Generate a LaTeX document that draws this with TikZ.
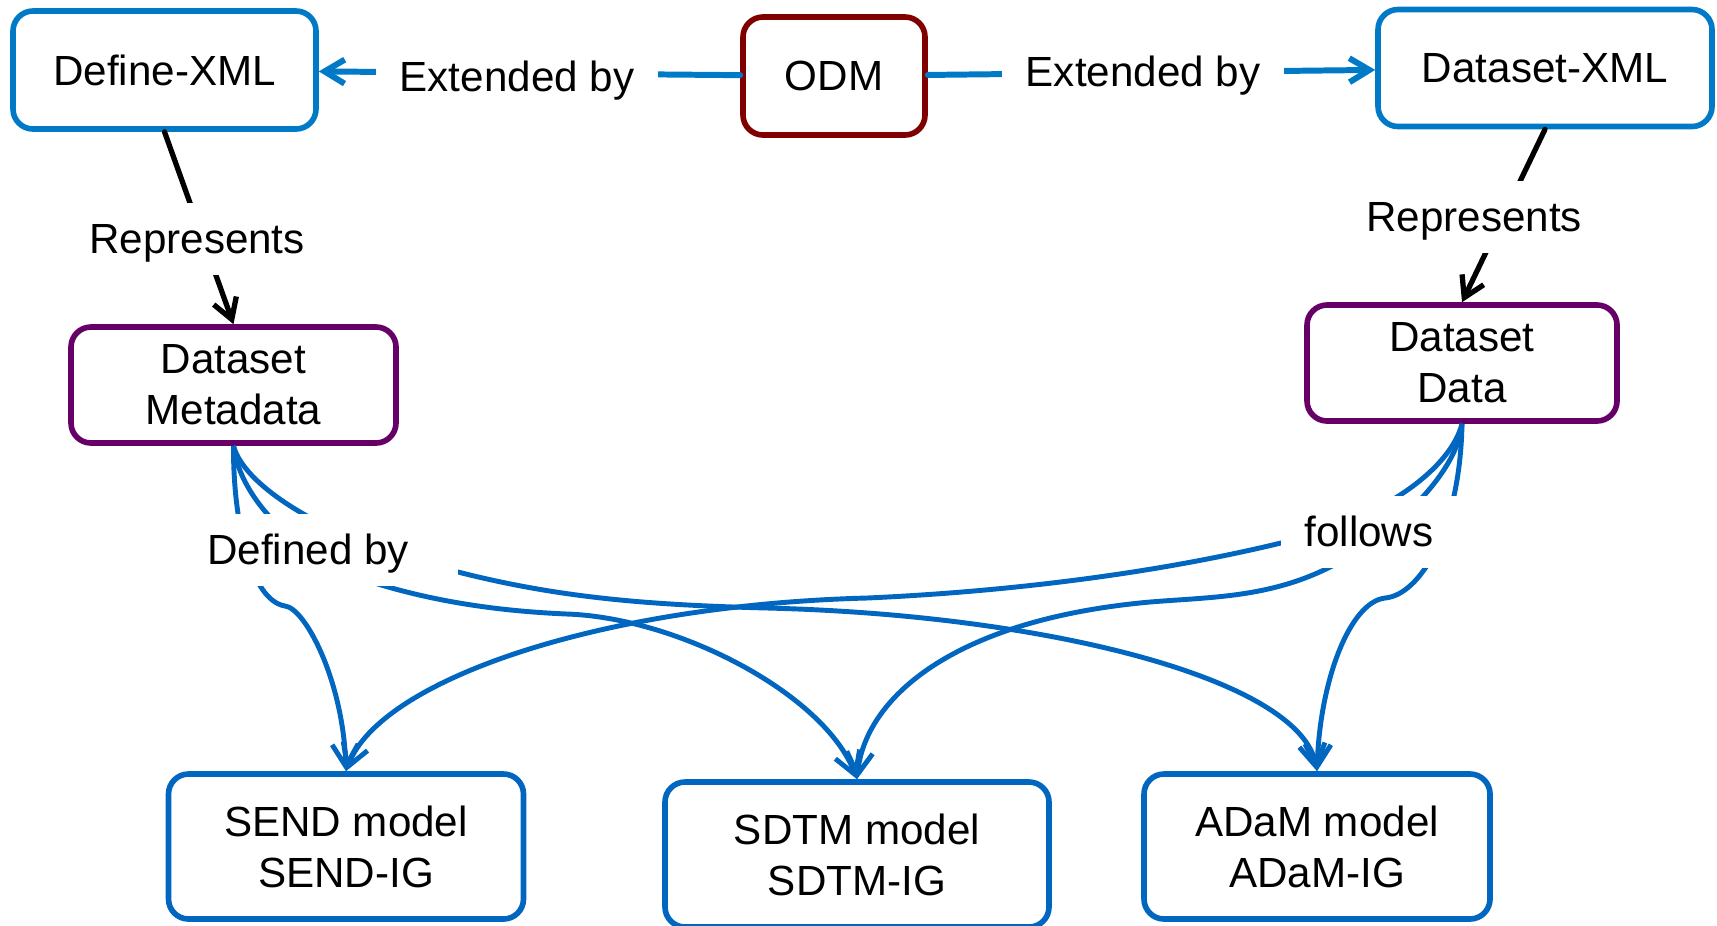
\documentclass[tikz,border=0pt]{standalone}
\usepackage{fontspec}
\setmainfont{Liberation Sans}
\usetikzlibrary{arrows.meta}

\definecolor{xmlblue}{RGB}{0,122,198}
\definecolor{modelblue}{RGB}{0,102,192}
\definecolor{odmred}{RGB}{128,0,0}
\definecolor{dspurple}{RGB}{102,0,102}

\begin{document}
\begin{tikzpicture}[x=0.1mm,y=-0.1mm,
    font=\fontsize{12}{14.5}\selectfont,
    box/.style={draw,rounded corners=2mm,line width=1.6pt,inner sep=0pt,align=center},
    lbl/.style={fill=white,inner xsep=2.4mm,inner ysep=1.6mm,text height=10pt,text depth=1.5pt},
    ext/.style={draw=xmlblue,line width=1.7pt,line cap=round,-{Straight Barb[length=2mm,width=2.4mm]}},
    rep/.style={line width=1.5pt,line cap=round,-{Straight Barb[length=2mm,width=2.4mm]}},
    flow/.style={draw=modelblue,line width=1.4pt,-{Straight Barb[length=2.2mm,width=2.6mm]}}]
    \useasboundingbox (0,0) rectangle (1717,925);

    % top row
    \node[box,draw=xmlblue,minimum width=30.3mm,minimum height=11.8mm] (defxml) at (164.5,70) {Define-XML};
    \node[box,draw=odmred,minimum width=18.2mm,minimum height=11.8mm] (odm) at (834,76) {ODM};
    \node[box,draw=xmlblue,minimum width=33.4mm,minimum height=11.7mm] (dsxml) at (1545,68) {Dataset-XML};

    % datasets
    \node[box,draw=dspurple,minimum width=32.5mm,minimum height=11.6mm] (meta) at (233.5,385) {Dataset\\Metadata};
    \node[box,draw=dspurple,minimum width=31mm,minimum height=11.6mm] (data) at (1462,363) {Dataset\\Data};

    % models
    \node[box,draw=modelblue,minimum width=35.5mm,minimum height=14.5mm] (send) at (346,846.5) {SEND model\\SEND-IG};
    \node[box,draw=modelblue,minimum width=38.4mm,minimum height=14.5mm] (sdtm) at (857,854.5) {SDTM model\\SDTM-IG};
    \node[box,draw=modelblue,minimum width=34.6mm,minimum height=14.5mm] (adam) at (1317,846.5) {ADaM model\\ADaM-IG};

    \draw[ext] (odm) -- (defxml);
    \draw[ext] (odm) -- (dsxml);
    \draw[rep] (defxml.south) -- (meta.north);
    \draw[rep] (dsxml.south) -- (data.north);

    % Dataset Metadata to the models
    \draw[flow] (meta.south) .. controls (233,520) and (250,600) .. (285,606)
        .. controls (305,608) and (343,680) .. (send.north);
    \draw[flow] (meta.south) .. controls (240,500) and (300,560) .. (378,584)
        .. controls (450,606) and (520,612) .. (567,614)
        .. controls (680,618) and (825,695) .. (sdtm.north);
    \draw[flow] (meta.south) .. controls (245,490) and (340,545) .. (458,572)
        .. controls (560,598) and (650,605) .. (767,608)
        .. controls (1050,615) and (1300,680) .. (adam.north);
    % Dataset Data to the models
    \draw[flow] (data.south) .. controls (1450,470) and (1380,520) .. (1285,542)
        .. controls (1150,575) and (1000,592) .. (867,598)
        .. controls (600,605) and (380,680) .. (send.north);
    \draw[flow] (data.south) .. controls (1458,470) and (1400,530) .. (1332,566)
        .. controls (1270,598) and (1210,597) .. (1150,602)
        .. controls (950,620) and (865,700) .. (sdtm.north);
    \draw[flow] (data.south) .. controls (1460,530) and (1420,595) .. (1385,598)
        .. controls (1350,602) and (1320,680) .. (adam.north);

    % labels over the connectors
    \node[lbl] (ext1) at (517,77) {Extended by};
    \node[lbl] (ext2) at (1143,72) {Extended by};
    \node[lbl] (rep1) at (197,239) {Represents};
    \node[lbl] (rep2) at (1474,217) {Represents};
    \node[lbl,minimum width=30mm] (defby) at (308,550) {Defined by};
    \node[lbl] (follows) at (1369,532) {follows};
\end{tikzpicture}
\end{document}
